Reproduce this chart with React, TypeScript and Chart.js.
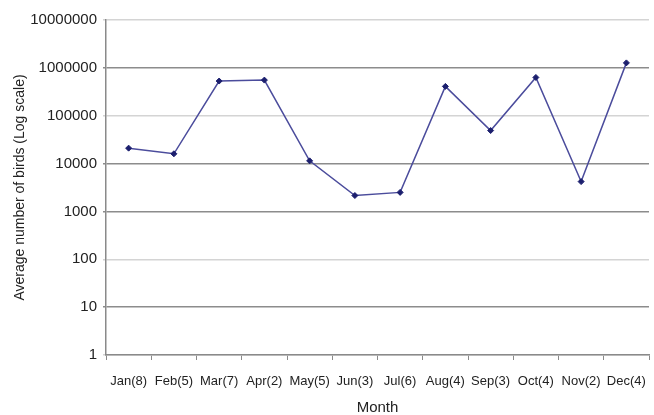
import React, { useEffect, useRef } from "react";
import { Chart, registerables } from "chart.js";

Chart.register(...registerables);

const months = ["Jan(8)", "Feb(5)", "Mar(7)", "Apr(2)", "May(5)", "Jun(3)", "Jul(6)", "Aug(4)", "Sep(3)", "Oct(4)", "Nov(2)", "Dec(4)"];
const birds = [21000, 16000, 530000, 555000, 11400, 2150, 2500, 410000, 49000, 630000, 4200, 1270000];
const yTickValues = [1, 10, 100, 1000, 10000, 100000, 1000000, 10000000];
const darkGridValues = [10, 1000, 10000, 1000000];

export default function App() {
  const ref = useRef<HTMLCanvasElement>(null);
  useEffect(() => {
    if (!ref.current) return;
    const chart = new Chart(ref.current, {
      type: "line",
      data: {
        labels: months,
        datasets: [
          {
            data: birds,
            borderColor: "#4b4c9c",
            borderWidth: 1.5,
            pointStyle: "rectRot",
            pointRadius: 3,
            pointBackgroundColor: "#1c1f6e",
            pointBorderColor: "#1c1f6e",
            pointBorderWidth: 1,
            tension: 0,
          },
        ],
      },
      options: {
        animation: false,
        responsive: false,
        layout: { padding: { top: 20, right: 0, left: 0, bottom: 0 } },
        plugins: { legend: { display: false }, tooltip: { enabled: false } },
        scales: {
          x: {
            type: "category",
            offset: true,
            grid: {
              display: true,
              offset: true,
              drawOnChartArea: false,
              tickLength: 5,
              color: "#8a8a8a",
            },
            border: { color: "#8a8a8a", width: 1.5 },
            ticks: {
              color: "#222",
              font: { family: "Liberation Sans", size: 13 },
              padding: 14,
              maxRotation: 0,
              autoSkip: false,
            },
            title: {
              display: true,
              text: "Month",
              color: "#222",
              font: { family: "Liberation Sans", size: 15 },
              padding: { top: 0, bottom: -2 },
            },
            afterFit: (s: any) => {
              s.height = 60;
              s.paddingLeft = 0;
              s.paddingRight = 0;
            },
          },
          y: {
            type: "logarithmic",
            min: 1,
            max: 10000000,
            afterBuildTicks: (s: any) => {
              s.ticks = yTickValues.map((v) => ({ value: v, major: true }));
            },
            grid: {
              tickLength: 3,
              color: (ctx: any) =>
                ctx.tick && darkGridValues.includes(ctx.tick.value) ? "#8c8c8c" : "#d4d4d4",
              lineWidth: 1.5,
            },
            border: { color: "#8a8a8a", width: 1.5 },
            ticks: {
              color: "#222",
              font: { family: "Liberation Sans", size: 15 },
              padding: 6,
              callback: (v: any) => String(v),
            },
            title: {
              display: true,
              text: "Average number of birds (Log scale)",
              color: "#222",
              font: { family: "Liberation Sans", size: 14 },
              padding: { top: 12, bottom: 0 },
            },
            afterFit: (s: any) => {
              s.width = 106;
            },
          },
        },
      },
    });
    return () => chart.destroy();
  }, []);
  return (
    <div style={{ position: "fixed", left: 0, top: 0, width: 654, height: 415, background: "#fff" }}>
      <canvas ref={ref} width={654} height={415} style={{ width: 654, height: 415 }} />
    </div>
  );
}
